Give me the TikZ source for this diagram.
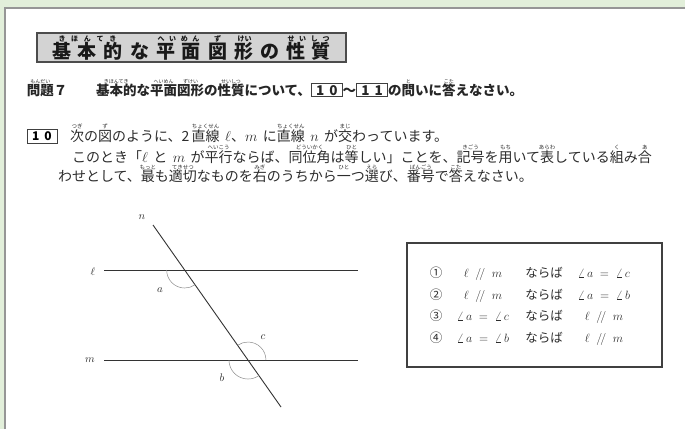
\documentclass[tikz,border=0pt]{standalone}
\usepackage{fontspec}
\newfontfamily\cjk{Noto Sans CJK JP}
\usetikzlibrary{calc}
\definecolor{bggreen}{RGB}{226,239,218}
\definecolor{panelgray}{RGB}{150,150,150}
\definecolor{titlefill}{RGB}{211,211,211}
\definecolor{inkgray}{RGB}{45,45,45}
\definecolor{arcgray}{RGB}{140,140,140}
\newsavebox\furibox
\newcommand\furiraise{12.4pt}
\newcommand\furifont{\fontsize{5.5}{5.5}\selectfont}
\newcommand\furi[2]{\sbox\furibox{#1}\leavevmode\rlap{\raisebox{\furiraise}[0pt][0pt]{\makebox[\wd\furibox][c]{\furifont #2}}}\usebox\furibox}
\newcommand\furis[3][6pt]{\sbox\furibox{#2}\leavevmode\rlap{\raisebox{\furiraise}[0pt][0pt]{\makebox[\wd\furibox][s]{\hspace*{#1}\furifont #3\hspace*{#1}}}}\usebox\furibox}
\newcommand\tch[1]{\makebox[26pt]{#1}}
\newcommand\bnum[1]{\setlength\fboxsep{1.2pt}\setlength\fboxrule{0.7pt}\fcolorbox{black!75}{white}{\makebox[28pt]{\bfseries #1}}}
\begin{document}
\begin{tikzpicture}[x=1pt,y=1pt,
  every node/.style={inner sep=0pt, outer sep=0pt},
  titlebox/.style={draw=black!70, fill=titlefill, line width=1.1pt, minimum width=309pt, minimum height=29pt},
  titletext/.style={font=\cjk\bfseries\fontsize{19}{19}\selectfont, text=black!90, anchor=base},
  headtext/.style={font=\cjk\bfseries\fontsize{13.5}{13.5}\selectfont, text=black!85, anchor=base west},
  bodytext/.style={font=\cjk\fontsize{14}{14}\selectfont, text=inkgray, anchor=base west},
  numbox/.style={draw=black!75, line width=0.7pt, minimum width=30pt, minimum height=14pt, font=\cjk\bfseries\fontsize{12}{12}\selectfont},
  figline/.style={draw=black!80, line width=0.9pt},
  arcline/.style={draw=arcgray, line width=0.5pt},
  figlabel/.style={font=\fontsize{11}{11}\selectfont, text=inkgray},
  optbox/.style={draw=black!75, line width=1.2pt, minimum width=255pt, minimum height=124pt},
  optrow/.style={font=\cjk\fontsize{12.5}{12.5}\selectfont, text=inkgray, anchor=base west}]
\useasboundingbox (0,0) rectangle (685,-429);
\fill[bggreen] (0,0) rectangle (685,-429);
\fill[white] (5,-8) rectangle (685,-429);
\draw[panelgray, line width=2pt] (5,-429) -- (5,-8) -- (685,-8);
% title
\node[titlebox] (titlebox) at (191.5,-47.5) {};
\node[titletext] (title) at (191.5,-58) {\renewcommand\furiraise{16.5pt}\renewcommand\furifont{\fontsize{7}{7}\selectfont}\furis[10pt]{\tch{基}\tch{本}\tch{的}}{き\hfil ほ\hfil ん\hfil て\hfil き}\tch{な}\furis[5pt]{\tch{平}\tch{面}}{へ\hfil い\hfil め\hfil ん}\furi{\tch{図}}{ず}\furis[7pt]{\tch{形}}{け\hfil い}\tch{の}\furis[5pt]{\tch{性}\tch{質}}{せ\hfil い\hfil し\hfil つ}};
% question header
\node[headtext] (q7) at (27,-95) {\renewcommand\furiraise{11.8pt}\renewcommand\furifont{\mdseries\fontsize{5}{5}\selectfont}\furi{問題}{もんだい}７};
\node[headtext] (q7text) at (96,-95) {\renewcommand\furiraise{11.8pt}\renewcommand\furifont{\mdseries\fontsize{5}{5}\selectfont}\furi{基本的}{きほんてき}な\furi{平面}{へいめん}\furi{図形}{ずけい}の\furi{性質}{せいしつ}について、\bnum{1\hspace{5pt}0}～\bnum{1\hspace{5pt}1}の\furi{問}{と}いに\furi{答}{こた}えなさい。};
% question 10
\node[numbox] (q10) at (42,-136) {1\hspace{5pt}0};
\node[bodytext] (line1) at (70,-141) {\furi{次}{つぎ}の\furi{図}{ず}のように、2\,\furi{直線}{ちょくせん}\ \,$\ell$、$m$\ \,に\furi{直線}{ちょくせん}\ \,$n$\ \,が\furi{交}{まじ}わっています。};
\node[bodytext] (line2) at (72,-162) {このとき「$\ell$\ \,と\ \,$m$\ \,が\furi{平行}{へいこう}ならば、\furi{同位角}{どういかく}は\furi{等}{ひと}しい」ことを、\furi{記号}{きごう}を\furi{用}{もち}いて\furi{表}{あらわ}している\furi{組}{く}み\furi{合}{あ}};
\node[bodytext] (line3) at (58,-181.5) {わせとして、\furi{最}{もっと}も\furi{適切}{てきせつ}なものを\furi{右}{みぎ}のうちから\furi{一}{ひと}つ\furi{選}{えら}び、\furi{番号}{ばんごう}で\furi{答}{こた}えなさい。};
% figure
\coordinate (lA) at (104,-270);
\coordinate (lB) at (358,-270);
\coordinate (mA) at (104,-360);
\coordinate (mB) at (358,-360);
\coordinate (nA) at (153,-225);
\coordinate (nB) at (281,-407);
\draw[figline] (lA) -- (lB);
\draw[figline] (mA) -- (mB);
\draw[figline] (nA) -- (nB);
\coordinate (P) at (intersection of nA--nB and lA--lB);
\coordinate (Q) at (intersection of nA--nB and mA--mB);
\draw[arcline] ($(P)+(180:18pt)$) arc[start angle=180, end angle=305.1, radius=18pt];
\draw[arcline] ($(Q)+(0:18pt)$) arc[start angle=0, end angle=125.1, radius=18pt];
\draw[arcline] ($(Q)+(180:19pt)$) arc[start angle=180, end angle=305.1, radius=19pt];
\node[figlabel] (lblL) at (93,-272) {$\ell$};
\node[figlabel] (lblM) at (90,-360) {$m$};
\node[figlabel] (lblN) at (142,-217) {$n$};
\node[figlabel] (lblA) at (160,-290) {$a$};
\node[figlabel] (lblC) at (263,-337) {$c$};
\node[figlabel] (lblB) at (222,-378) {$b$};
% options
\node[optbox] (opts) at (534.5,-305) {};
\node[optrow] (opt1) at (424,-277.5) {\makebox[24pt]{①}\makebox[70pt]{$\ell\;\mathrel{/\!/}\;m$}\makebox[52pt]{ならば}\makebox[68pt]{$\angle\,a\;=\;\angle\,c$}};
\node[optrow] (opt2) at (424,-299.5) {\makebox[24pt]{②}\makebox[70pt]{$\ell\;\mathrel{/\!/}\;m$}\makebox[52pt]{ならば}\makebox[68pt]{$\angle\,a\;=\;\angle\,b$}};
\node[optrow] (opt3) at (424,-320.5) {\makebox[24pt]{③}\makebox[70pt]{$\angle\,a\;=\;\angle\,c$}\makebox[52pt]{ならば}\makebox[68pt]{$\ell\;\mathrel{/\!/}\;m$}};
\node[optrow] (opt4) at (424,-342.5) {\makebox[24pt]{④}\makebox[70pt]{$\angle\,a\;=\;\angle\,b$}\makebox[52pt]{ならば}\makebox[68pt]{$\ell\;\mathrel{/\!/}\;m$}};
\end{tikzpicture}
\end{document}
